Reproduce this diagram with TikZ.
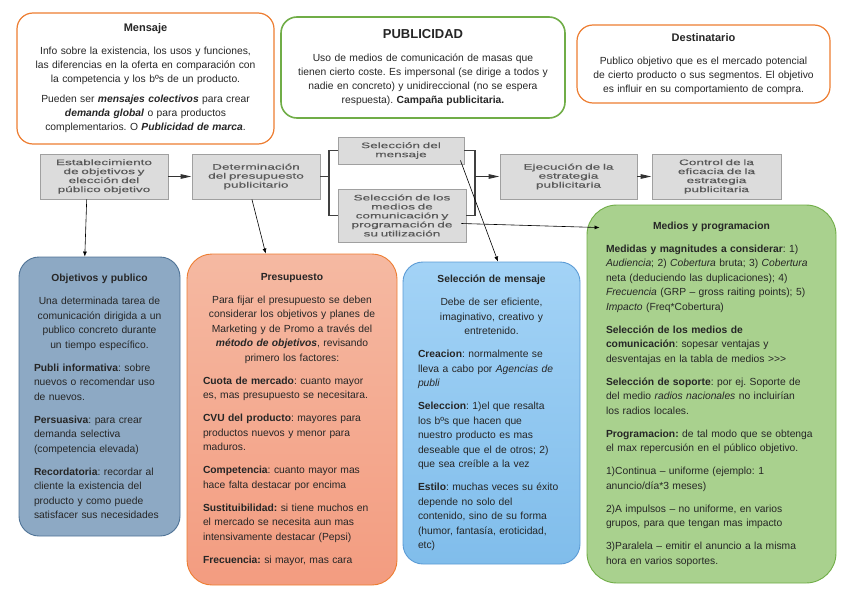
\documentclass[tikz,border=0pt]{standalone}
\usepackage{fontspec}
\setmainfont{Liberation Sans}
\newfontfamily\flowfont[FakeStretch=1.7,FakeBold=0.4]{Liberation Sans}
\usetikzlibrary{arrows.meta}
\frenchspacing

\definecolor{ofcorange}{HTML}{ED7D31}
\definecolor{ofcgreen}{HTML}{70AD47}
\definecolor{ofcblue}{HTML}{5B9BD5}
\definecolor{slatefill}{HTML}{8DA9C4}
\definecolor{slateedge}{HTML}{4F7396}
\definecolor{salmontop}{HTML}{F5B9A2}
\definecolor{salmonbot}{HTML}{F39C80}
\definecolor{skytop}{HTML}{A3D3F6}
\definecolor{skybot}{HTML}{80BDEB}
\definecolor{leaf}{HTML}{A9D18E}
\definecolor{flowgray}{HTML}{DCDCDC}
\definecolor{flowedge}{HTML}{A0A0A0}
\definecolor{inktext}{HTML}{262626}

\newcommand{\boxtitle}[1]{{\centering\bfseries #1\par}}
\newcommand{\centred}[1]{{\centering #1\par}}

\begin{document}
\begin{tikzpicture}[x=1pt,y=-1pt,
      flowbox/.style={draw=flowedge,fill=flowgray,line width=0.9pt,align=center,
        text=black!65,font=\flowfont\fontsize{8}{9}\selectfont,inner sep=1pt},
      topbox/.style={draw,rounded corners=16pt,fill=white,line width=1.2pt,align=center,
        text=inktext,font=\fontsize{10.3}{14}\selectfont,
        execute at begin node={\setlength{\parskip}{6pt}}},
      lowbox/.style={draw,rounded corners=22pt,line width=0.9pt,align=left,text=inktext,
        font=\fontsize{10.3}{14.5}\selectfont,
        execute at begin node={\setlength{\parskip}{8.5pt}}},
      flowarrow/.style={draw=black!80,line width=1.4pt,-{Triangle[length=11pt,width=4.5pt]}},
      bracket/.style={draw=black!75,line width=1.8pt},
      link/.style={draw=black,line width=0.6pt,-{Latex[length=5pt,width=4pt]}}]
    \useasboundingbox (0,0) rectangle (848,599);

    % top row
    \node[topbox,draw=ofcorange,minimum width=257,minimum height=131,text width=240] (mensaje) at (145.5,78.5) {%
      {\fontsize{11}{14}\selectfont\bfseries Mensaje\par}\vspace{3pt}
      Info sobre la existencia, los usos y funciones,\\ las diferencias en la oferta en comparación con\\ la competencia y los bºs de un producto.\par
      Pueden ser \textbf{\textit{mensajes colectivos}} para crear\\ \textbf{\textit{demanda global}} o para productos\\ complementarios. O \textbf{\textit{Publicidad de marca}}.};
    \node[topbox,draw=ofcgreen,line width=1.6pt,minimum width=284,minimum height=101,text width=272] (publicidad) at (423,67.5) {%
      {\fontsize{13}{15}\selectfont\bfseries PUBLICIDAD\par}\vspace{3pt}
      Uso de medios de comunicación de masas que\\ tienen cierto coste. Es impersonal (se dirige a todos y\\ nadie en concreto) y unidireccional (no se espera\\ respuesta). \textbf{Campaña publicitaria.}};
    \node[topbox,draw=ofcorange,minimum width=253,minimum height=78,text width=240] (destinatario) at (703.5,64) {%
      {\fontsize{11}{14}\selectfont\bfseries Destinatario\par}\vspace{3pt}
      Publico objetivo que es el mercado potencial\\ de cierto producto o sus segmentos. El objetivo\\ es influir en su comportamiento de compra.};

    % process row
    \node[flowbox,minimum width=128,minimum height=45,text width=124] (establecer) at (104,176.5) {Establecimiento\\ de objetivos y\\ elección del\\ público objetivo};
    \node[flowbox,minimum width=128,minimum height=45,text width=124] (determinar) at (256,176.5) {Determinación\\ del presupuesto\\ publicitario};
    \node[flowbox,minimum width=126,minimum height=27,text width=122] (elegirmsg) at (401,150.5) {Selección del\\ mensaje};
    \node[flowbox,minimum width=128,minimum height=53,text width=124] (elegirmedios) at (402,215.5) {Selección de los\\ medios de\\ comunicación y\\ programación de\\ su utilización};
    \node[flowbox,minimum width=137,minimum height=45,text width=133] (ejecutar) at (568.5,176.5) {Ejecución de la\\ estrategia\\ publicitaria};
    \node[flowbox,minimum width=129,minimum height=45,text width=125] (controlar) at (716.5,176.5) {Control de la\\ eficacia de la\\ estrategia\\ publicitaria};

    \coordinate (lbracket) at (329,176.5);
    \coordinate (rbracket) at (475,176.5);
    \draw[flowarrow] (establecer.east) -- (determinar.west);
    \draw[bracket] (determinar.east) -- (lbracket);
    \draw[bracket] (elegirmsg.west) -| (lbracket) |- (elegirmedios.west);
    \draw[bracket] (elegirmsg.east) -| (rbracket) |- (elegirmedios.east);
    \draw[flowarrow] (rbracket) -- (ejecutar.west);
    \draw[flowarrow] (ejecutar.east) -- (controlar.west);

    % detail boxes
    \node[lowbox,draw=slateedge,fill=slatefill,rounded corners=20pt,minimum width=161,minimum height=279,text width=131] (objetivos) at (99.5,396.5) {%
      \boxtitle{Objetivos y publico}
      \centred{Una determinada tarea de\\ comunicación dirigida a un\\ publico concreto durante\\ un tiempo específico.}
      \textbf{Publi informativa}: sobre\\ nuevos o recomendar uso\\ de nuevos.\par
      \textbf{Persuasiva}: para crear\\ demanda selectiva\\ (competencia elevada)\par
      \textbf{Recordatoria}: recordar al\\ cliente la existencia del\\ producto y como puede\\ satisfacer sus necesidades};
    \node[lowbox,draw=ofcorange,top color=salmontop,bottom color=salmonbot,rounded corners=25pt,minimum width=210,minimum height=331,text width=178] (presupuesto) at (292,419.5) {%
      \boxtitle{Presupuesto}
      \centred{Para fijar el presupuesto se deben\\ considerar los objetivos y planes de\\ Marketing y de Promo a través del\\ \textbf{\textit{método de objetivos}}, revisando\\ primero los factores:}
      \textbf{Cuota de mercado}: cuanto mayor\\ es, mas presupuesto se necesitara.\par
      \textbf{CVU del producto}: mayores para\\ productos nuevos y menor para\\ maduros.\par
      \textbf{Competencia}: cuanto mayor mas\\ hace falta destacar por encima\par
      \textbf{Sustituibilidad:} si tiene muchos en\\ el mercado se necesita aun mas\\ intensivamente destacar (Pepsi)\par
      \textbf{Frecuencia:} si mayor, mas cara};
    \node[lowbox,draw=ofcblue,top color=skytop,bottom color=skybot,rounded corners=20pt,minimum width=177,minimum height=302,text width=147] (selmsg) at (491.5,413) {%
      \boxtitle{Selección de mensaje}
      \centred{Debe de ser eficiente,\\ imaginativo, creativo y\\ entretenido.}
      \textbf{Creacion}: normalmente se\\ lleva a cabo por \textit{Agencias de}\\ \textit{publi}\par
      \textbf{Seleccion}: 1)el que resalta\\ los bºs que hacen que\\ nuestro producto es mas\\ deseable que el de otros; 2)\\ que sea creíble a la vez\par
      \textbf{Estilo}: muchas veces su éxito\\ depende no solo del\\ contenido, sino de su forma\\ (humor, fantasía, eroticidad,\\ etc)};
    \node[lowbox,draw=ofcgreen,fill=leaf,rounded corners=30pt,minimum width=249,minimum height=378,text width=211] (medios) at (711.5,394) {%
      \boxtitle{Medios y programacion}
      \textbf{Medidas y magnitudes a considerar}: 1)\\ \textit{Audiencia}; 2) \textit{Cobertura} bruta; 3) \textit{Cobertura}\\ neta (deduciendo las duplicaciones); 4)\\ \textit{Frecuencia} (GRP – gross raiting points); 5)\\ \textit{Impacto} (Freq*Cobertura)\par
      \textbf{Selección de los medios de}\\ \textbf{comunicación}: sopesar ventajas y\\ desventajas en la tabla de medios >{}>{}>\par
      \textbf{Selección de soporte}: por ej. Soporte de\\ del medio \textit{radios nacionales} no incluirían\\ los radios locales.\par
      \textbf{Programacion:} de tal modo que se obtenga\\ el max repercusión en el público objetivo.\par
      1)Continua – uniforme (ejemplo: 1\\ anuncio/día*3 meses)\par
      2)A impulsos – no uniforme, en varios\\ grupos, para que tengan mas impacto\par
      3)Paralela – emitir el anuncio a la misma\\ hora en varios soportes.};

    % links from the process to the details
    \draw[link] (establecer.233) -- (objetivos.96);
    \draw[link] (determinar.260) -- (presupuesto.99);
    \draw[link] ([xshift=-4pt,yshift=4pt]elegirmsg.south east) -- ([xshift=6.5pt]selmsg.north);
    \draw[link] ([xshift=-5pt,yshift=-8pt]elegirmedios.east) -- ([xshift=13pt,yshift=-23pt]medios.north west);
\end{tikzpicture}
\end{document}
